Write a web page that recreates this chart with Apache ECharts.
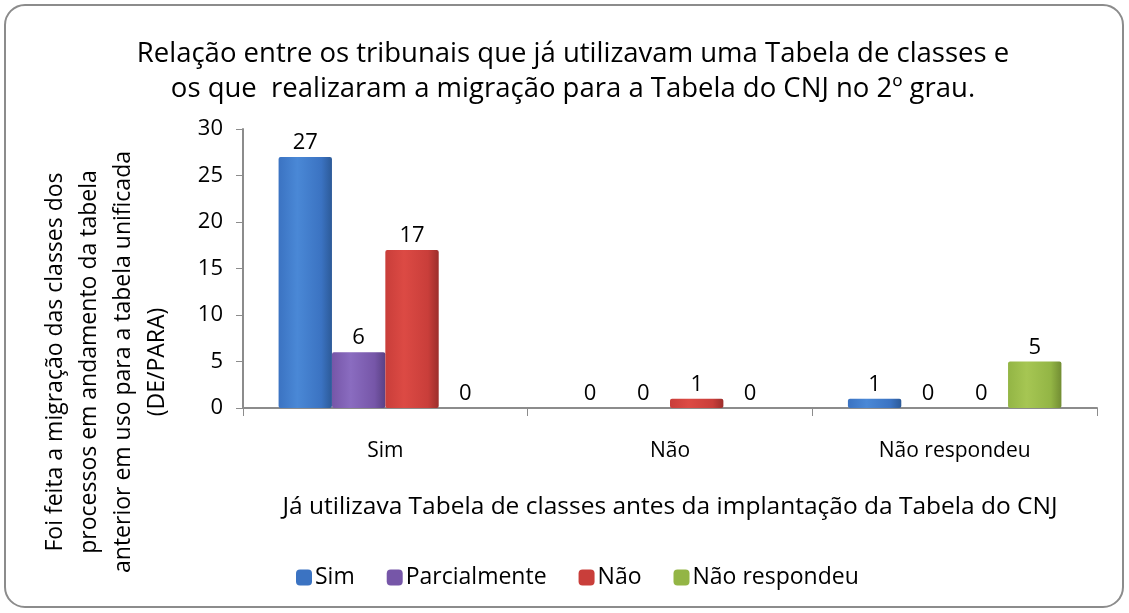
<!DOCTYPE html>
<html>
<head>
<meta charset="utf-8">
<script src="https://cdn.jsdelivr.net/npm/echarts@6/dist/echarts.min.js"></script>
<style>
  html, body { margin: 0; padding: 0; background: #fff; }
  #chart { width: 1129px; height: 613px; }
</style>
</head>
<body>
<div id="chart"></div>
<script>
// dados
var categories = ["Sim", "Não", "Não respondeu"];
var seriesNames = ["Sim", "Parcialmente", "Não", "Não respondeu"];
var simValues = [27, 0, 1];
var parcialValues = [6, 0, 0];
var naoValues = [17, 1, 0];
var naoRespValues = [0, 0, 5];
var yTicks = { min: 0, max: 30, interval: 5 };

var FONT = "'Open Sans', 'Noto Sans', sans-serif";

function barFill(light, mid, dark) {
  return new echarts.graphic.LinearGradient(0, 0, 1, 0, [
    { offset: 0, color: mid },
    { offset: 0.35, color: light },
    { offset: 0.8, color: mid },
    { offset: 1, color: dark }
  ]);
}

var colors = [
  barFill("#4a88d6", "#3b73c2", "#2c5a98"),
  barFill("#8a6cc0", "#7656a8", "#5a4184"),
  barFill("#dc4a44", "#c93e3a", "#9c2e2b"),
  barFill("#a6c653", "#93b545", "#728d33")
];
var legendColors = ["#3b73c2", "#7656a8", "#c93e3a", "#93b545"];

var allValues = [simValues, parcialValues, naoValues, naoRespValues];

var chart = echarts.init(document.getElementById("chart"));

chart.setOption({
  animation: false,
  textStyle: { fontFamily: FONT },
  title: {
    text: "Relação entre os tribunais que já utilizavam uma Tabela de classes e\nos que  realizaram a migração para a Tabela do CNJ no 2º grau.",
    left: 573,
    top: 37,
    padding: 0,
    textAlign: "center",
    textStyle: { fontFamily: FONT, fontSize: 27.5, fontWeight: "normal", color: "#000", lineHeight: 35 }
  },
  legend: {
    bottom: 19,
    left: 291,
    itemWidth: 16,
    itemHeight: 16,
    itemGap: 32,
    textStyle: { fontFamily: FONT, fontSize: 23, color: "#000", padding: [0, 0, 0, -2] },
    data: seriesNames.map(function (n, i) {
      return { name: n, itemStyle: { color: legendColors[i] } };
    })
  },
  grid: { left: 243, right: 32, top: 129, bottom: 205 },
  xAxis: {
    type: "category",
    data: categories,
    name: "Já utilizava Tabela de classes antes da implantação da Tabela do CNJ",
    nameLocation: "middle",
    nameGap: 87,
    nameTextStyle: { fontFamily: FONT, fontSize: 24.5, color: "#000" },
    axisLine: { lineStyle: { color: "#8c8c8c", width: 2 } },
    axisTick: { show: true, length: 8, lineStyle: { color: "#8c8c8c" } },
    axisLabel: { fontFamily: FONT, fontSize: 21, color: "#000", margin: 33 }
  },
  yAxis: {
    type: "value",
    min: yTicks.min,
    max: yTicks.max,
    interval: yTicks.interval,
    splitLine: { show: false },
    axisLine: { show: true, lineStyle: { color: "#8c8c8c", width: 2 } },
    axisTick: { show: true, length: 7, lineStyle: { color: "#8c8c8c" } },
    axisLabel: { fontFamily: FONT, fontSize: 22, color: "#000", margin: 20 }
  },
  graphic: [
    {
      type: "rect",
      shape: { x: 5, y: 5, width: 1118, height: 602, r: 20 },
      style: { fill: "none", stroke: "#8c8c8c", lineWidth: 2 },
      z: -1
    },
    {
      type: "text",
      x: 106,
      y: 362,
      rotation: Math.PI / 2,
      style: {
        text: "Foi feita a migração das classes dos\nprocessos em andamento da tabela\nanterior em uso para a tabela unificada\n(DE/PARA)",
        font: "23px " + FONT,
        fill: "#000",
        align: "center",
        verticalAlign: "middle",
        lineHeight: 34
      }
    }
  ],
  series: seriesNames.map(function (n, i) {
    return {
      name: n,
      type: "bar",
      data: allValues[i],
      barGap: "0%",
      barCategoryGap: "25%",
      itemStyle: { color: colors[i], borderRadius: 2 },
      label: {
        show: true,
        position: "top",
        distance: 3,
        fontFamily: FONT,
        fontSize: 22,
        color: "#000"
      }
    };
  })
});
</script>
</body>
</html>
